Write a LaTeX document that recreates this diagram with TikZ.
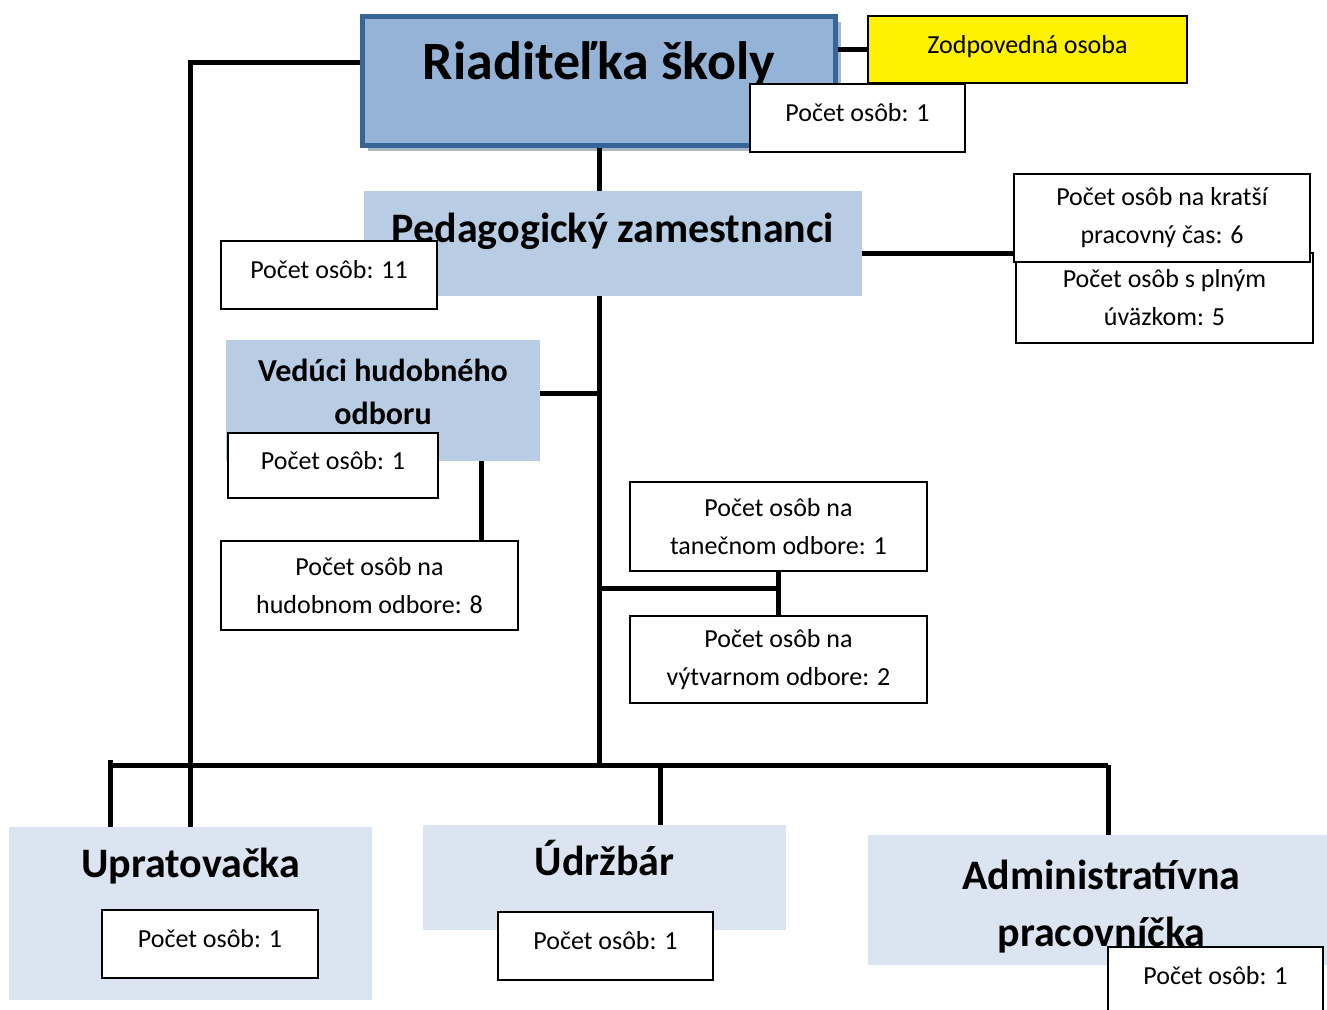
\documentclass[tikz,border=0pt]{standalone}
\usepackage{fontspec}
\setmainfont{Carlito}
\usetikzlibrary{calc,shadows}
\definecolor{riadfill}{HTML}{95B3D7}
\definecolor{riadline}{HTML}{386597}
\definecolor{pedfill}{HTML}{B8CCE4}
\definecolor{lowfill}{HTML}{DBE5F1}
\definecolor{shadowgray}{HTML}{A9B6C3}

\begin{document}
\begin{tikzpicture}[x=1pt, y=-1pt,
		cnt/.style={draw, line width=1.5pt, fill=white, inner sep=0pt, align=center, font=\fontsize{26}{38}\selectfont},
		cnt1/.style={cnt, text height=15.6pt, text depth=7.8pt},
		unit/.style={inner sep=0pt},
		title/.style={inner sep=0pt, align=center, font=\bfseries\fontsize{42}{57}\selectfont},
		link/.style={line width=5pt}]
			%%%%% START %%%%%
			
			\useasboundingbox (0,0) rectangle (1327,1009);
			
			\node[unit, draw=riadline, line width=5pt, fill=riadfill, minimum width=473pt, minimum height=129pt,
				drop shadow={shadow xshift=5pt, shadow yshift=-5pt, fill=shadowgray, opacity=1},
				label={[title, font=\bfseries\fontsize{54}{60}\selectfont, anchor=base, yshift=-65.5pt]north:Riaditeľka školy}] (riad) at (599,81) {};
			\node[cnt1, fill=yellow, minimum width=319pt, minimum height=67pt] (zod) at (1027.5,49.5) {Zodpovedná osoba};
			\node[cnt1, minimum width=215pt, minimum height=68pt] (riadcnt) at (857.5,118) {Počet osôb: 1};
			
			\node[unit, fill=pedfill, minimum width=498pt, minimum height=105pt,
				label={[title, anchor=base, yshift=-52pt]north:Pedagogický zamestnanci}] (ped) at (613,243.5) {};
			\node[cnt1, minimum width=216pt, minimum height=68pt] (pedcnt) at (329,275) {Počet osôb: 11};
			\node[cnt, minimum width=297pt, minimum height=90pt] (plny) at (1164.5,298) {Počet osôb s plným\\úväzkom: 5};
			\node[cnt, minimum width=296pt, minimum height=88pt] (kratsi) at (1162,218) {Počet osôb na kratší\\pracovný čas: 6};
			
			\node[unit, fill=pedfill, minimum width=314pt, minimum height=121pt,
				label={[title, font=\bfseries\fontsize{32}{43}\selectfont, yshift=9pt]center:Vedúci hudobného\\odboru}] (ved) at (383,400.5) {};
			\node[cnt1, minimum width=210pt, minimum height=65pt] (vedcnt) at (333,465.5) {Počet osôb: 1};
			\node[cnt, minimum width=297pt, minimum height=89pt] (hud) at (369.5,585.5) {Počet osôb na\\hudobnom odbore: 8};
			\node[cnt, minimum width=297pt, minimum height=89pt] (tan) at (778.5,526.5) {Počet osôb na\\tanečnom odbore: 1};
			\node[cnt, minimum width=297pt, minimum height=87pt] (vyt) at (778.5,659.5) {Počet osôb na\\výtvarnom odbore: 2};
			
			\node[unit, fill=lowfill, minimum width=363pt, minimum height=173pt,
				label={[title, anchor=base, yshift=-51pt]north:Upratovačka}] (upr) at (190.5,913.5) {};
			\node[cnt1, minimum width=216pt, minimum height=68pt] (uprcnt) at (210,944) {Počet osôb: 1};
			\node[unit, fill=lowfill, minimum width=363pt, minimum height=105pt,
				label={[title, anchor=base, yshift=-51pt]north:Údržbár}] (udr) at (604.5,877.5) {};
			\node[cnt1, minimum width=215pt, minimum height=68pt] (udrcnt) at (605.5,946) {Počet osôb: 1};
			\node[unit, fill=lowfill, minimum width=459pt, minimum height=130pt,
				label={[title, xshift=4pt, yshift=-7pt]center:Administratívna\\pracovníčka}] (adm) at (1097.5,900) {};
			\node[cnt1, minimum width=215pt, minimum height=68pt] (admcnt) at (1215.5,981) {Počet osôb: 1};
			
			\coordinate (busL) at (110,765);
			\coordinate (busR) at (1108,765);
			\coordinate (tanjoin) at ($(tan.south)+(0,17)$);
			
			\draw[link] ([yshift=19pt]riad.west) -| (upr.north);
			\draw[link] (zod.west) -- (zod.west -| riad.east);
			\draw[link] (riad.south) -- (riad.south |- ped.north);
			\draw[link] ([yshift=-10pt]ped.east) -- ([yshift=-10pt]ped.east -| kratsi.west);
			\draw[link] (riad.south |- ped.south) -- (riad.south |- busL);
			\draw[link] ([yshift=7pt]ved.east) -- ([yshift=7pt]ved.east -| riad.south);
			\draw[link] ([xshift=98pt]ved.south) -- ([xshift=98pt]ved.south |- hud.north);
			\draw[link] (tan.south) -- (vyt.north);
			\draw[link] (tanjoin -| riad.south) -- (tanjoin);
			
			\draw[link] (busL) -- (busR);
			\draw[link] ([yshift=5pt]busL) -- (busL |- upr.north);
			\draw[link] ([xshift=55.5pt]udr.north) -- ([xshift=55.5pt]udr.north |- busL);
			\draw[link] (busR) -- (busR |- adm.north);
			
			%%%%% END %%%%%
		\end{tikzpicture}
\end{document}
